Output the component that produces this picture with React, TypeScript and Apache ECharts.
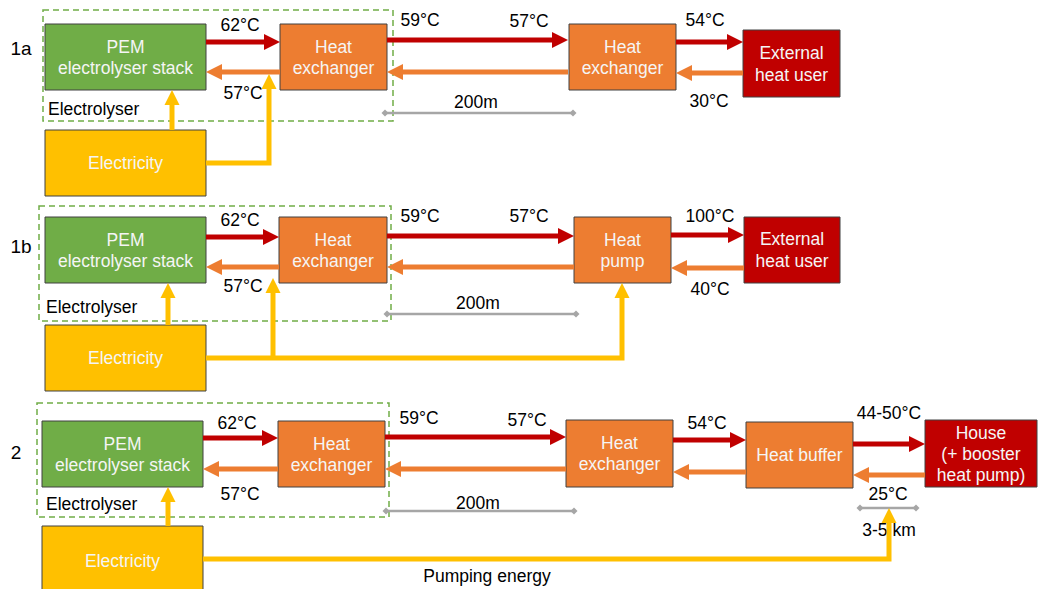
import React, { useEffect, useRef } from "react";
import * as echarts from "echarts";

// ---- Texts / values of the diagram ----
const rowLabels = ["1a", "1b", "2"];
const stackLabel = "PEM\nelectrolyser stack";
const electricityLabel = "Electricity";
const groupLabel = "Electrolyser";
const row1aNodes = ["Heat\nexchanger", "Heat\nexchanger", "External\nheat user"];
const row1bNodes = ["Heat\nexchanger", "Heat\npump", "External\nheat user"];
const row2Nodes = ["Heat\nexchanger", "Heat\nexchanger", "Heat buffer", "House\n(+ booster\nheat pump)"];
// supply temperatures (left to right), then return temperatures
const row1aSupply = ["62°C", "59°C", "57°C", "54°C"];
const row1aReturn = ["57°C", "30°C"];
const row1bSupply = ["62°C", "59°C", "57°C", "100°C"];
const row1bReturn = ["57°C", "40°C"];
const row2Supply = ["62°C", "59°C", "57°C", "54°C", "44-50°C"];
const row2Return = ["57°C", "25°C"];
const distances = ["200m", "3-5 km"];
const pumpingLabel = "Pumping energy";

// ---- Styles ----
const C = {
  green: "#70AD47",
  orange: "#ED7D31",
  yellow: "#FFC000",
  red: "#C00000",
  gray: "#A6A6A6",
  border: "#404040",
  boxText: "#F5F5F5",
  text: "#000000",
};
const FONT = "Liberation Sans, Arial, sans-serif";
const FS = 17.5;

type El = any;

function box(x: number, y: number, w: number, h: number, fill: string, label: string, lh = 21): El[] {
  return [
    { type: "rect", shape: { x, y, width: w, height: h }, style: { fill, stroke: C.border, lineWidth: 1 } },
    {
      type: "text",
      style: {
        text: label, x: x + w / 2, y: y + h / 2, fill: C.boxText, align: "center", verticalAlign: "middle",
        fontSize: FS, fontFamily: FONT, lineHeight: lh,
      },
    },
  ];
}

function label(text: string, x: number, y: number, align = "center", fs = FS): El {
  return {
    type: "text",
    style: { text, x, y, fill: C.text, align, verticalAlign: "middle", fontSize: fs, fontFamily: FONT },
  };
}

function hArrow(x1: number, x2: number, y: number, color: string, lw = 5, hl = 16, hw = 16): El[] {
  const s = x2 > x1 ? 1 : -1;
  const xb = x2 - s * hl;
  const sx = Math.min(x1, xb + s), ex = Math.max(x1, xb + s);
  return [
    { type: "rect", shape: { x: sx, y: y - lw / 2, width: ex - sx, height: lw }, style: { fill: color } },
    { type: "polygon", shape: { points: [[x2, y], [xb, y - hw / 2], [xb, y + hw / 2]] }, style: { fill: color } },
  ];
}

function upArrow(points: number[][], color: string, lw = 5, hl = 15, hw = 15): El[] {
  const tip = points[points.length - 1];
  const pts = points.slice(0, -1).concat([[tip[0], tip[1] + hl - 1]]);
  return [
    { type: "polyline", shape: { points: pts }, style: { stroke: color, lineWidth: lw, fill: null, lineJoin: "miter", lineCap: "butt" } },
    { type: "polygon", shape: { points: [[tip[0], tip[1]], [tip[0] - hw / 2, tip[1] + hl], [tip[0] + hw / 2, tip[1] + hl]] }, style: { fill: color } },
  ];
}

function dim(x1: number, x2: number, y: number): El[] {
  const d = 3.5;
  const dia = (x: number) => ({
    type: "polygon", shape: { points: [[x - d, y], [x, y - d], [x + d, y], [x, y + d]] }, style: { fill: C.gray },
  });
  return [
    { type: "line", shape: { x1, y1: y, x2, y2: y }, style: { stroke: C.gray, lineWidth: 2.5 } },
    dia(x1), dia(x2),
  ];
}

function dashed(x: number, y: number, w: number, h: number): El {
  return { type: "rect", shape: { x, y, width: w, height: h }, style: { fill: null, stroke: C.green, lineWidth: 1.5, lineDash: [6, 4] } };
}

function buildElements(): El[] {
  const e: El[] = [];
  // ---------- Row 1a ----------
  e.push(dashed(43, 10, 350, 111));
  e.push(label(rowLabels[0], 21, 48, "center", 19));
  e.push(...box(45, 24, 161, 66, C.green, stackLabel));
  e.push(...box(280, 24, 107, 66, C.orange, row1aNodes[0]));
  e.push(...box(569, 24, 107, 66, C.orange, row1aNodes[1]));
  e.push(...box(743, 30, 97, 67, C.red, row1aNodes[2], 22));
  e.push(...hArrow(206, 280, 42, C.red));
  e.push(...hArrow(387, 568, 40, C.red));
  e.push(...hArrow(676, 743, 42, C.red));
  e.push(...hArrow(280, 206, 72, C.orange));
  e.push(...hArrow(568, 387, 72, C.orange));
  e.push(...hArrow(743, 676, 73, C.orange));
  e.push(label(row1aSupply[0], 240, 25));
  e.push(label(row1aSupply[1], 420, 20));
  e.push(label(row1aSupply[2], 529, 21));
  e.push(label(row1aSupply[3], 705, 20));
  e.push(label(row1aReturn[0], 243, 93));
  e.push(label(row1aReturn[1], 709, 101));
  e.push(label(distances[0], 476, 102));
  e.push(label(groupLabel, 48, 109, "left"));
  e.push(...dim(385, 573, 113));
  e.push(...box(45, 130, 161, 66, C.yellow, electricityLabel));
  e.push(...upArrow([[172, 130], [172, 90]], C.yellow));
  e.push(...upArrow([[206, 163], [269, 163], [269, 74]], C.yellow));

  // ---------- Row 1b ----------
  e.push(dashed(39, 206, 352, 115));
  e.push(label(rowLabels[1], 21, 246, "center", 19));
  e.push(...box(45, 217, 161, 66, C.green, stackLabel));
  e.push(...box(279, 217, 108, 66, C.orange, row1bNodes[0]));
  e.push(...box(574, 217, 97, 66, C.orange, row1bNodes[1]));
  e.push(...box(744, 217, 96, 66, C.red, row1bNodes[2], 22));
  e.push(...hArrow(206, 279, 237, C.red));
  e.push(...hArrow(387, 574, 236, C.red));
  e.push(...hArrow(671, 744, 235, C.red));
  e.push(...hArrow(279, 206, 267, C.orange));
  e.push(...hArrow(574, 387, 267, C.orange));
  e.push(...hArrow(744, 671, 268, C.orange));
  e.push(label(row1bSupply[0], 240, 220));
  e.push(label(row1bSupply[1], 420, 216));
  e.push(label(row1bSupply[2], 529, 216));
  e.push(label(row1bSupply[3], 710, 216));
  e.push(label(row1bReturn[0], 243, 286));
  e.push(label(row1bReturn[1], 710, 289));
  e.push(label(distances[0], 478, 303));
  e.push(label(groupLabel, 46, 307, "left"));
  e.push(...dim(387, 576, 314));
  e.push(...box(45, 325, 161, 66, C.yellow, electricityLabel));
  e.push(...upArrow([[168, 325], [168, 283]], C.yellow));
  e.push(...upArrow([[206, 358], [622, 358], [622, 283]], C.yellow));
  e.push(...upArrow([[273, 358], [273, 278]], C.yellow));

  // ---------- Row 2 ----------
  e.push(dashed(37, 403, 352, 114));
  e.push(label(rowLabels[2], 16, 452, "center", 19));
  e.push(...box(42, 421, 161, 66, C.green, stackLabel));
  e.push(...box(278, 421, 107, 66, C.orange, row2Nodes[0]));
  e.push(...box(566, 420, 107, 67, C.orange, row2Nodes[1]));
  e.push(...box(746, 422, 107, 66, C.orange, row2Nodes[2]));
  e.push(...box(925, 420, 112, 67, C.red, row2Nodes[3]));
  e.push(...hArrow(203, 278, 438, C.red));
  e.push(...hArrow(385, 566, 437, C.red));
  e.push(...hArrow(673, 746, 440, C.red));
  e.push(...hArrow(853, 925, 444, C.red));
  e.push(...hArrow(278, 203, 469, C.orange));
  e.push(...hArrow(566, 385, 469, C.orange));
  e.push(...hArrow(746, 673, 472, C.orange));
  e.push(...hArrow(925, 853, 475, C.orange));
  e.push(label(row2Supply[0], 237, 423));
  e.push(label(row2Supply[1], 419, 418));
  e.push(label(row2Supply[2], 527, 420));
  e.push(label(row2Supply[3], 707, 423));
  e.push(label(row2Supply[4], 889, 413));
  e.push(label(row2Return[0], 240, 494));
  e.push(label(row2Return[1], 888, 494));
  e.push(label(distances[0], 478, 503));
  e.push(label(distances[1], 889, 530));
  e.push(label(pumpingLabel, 487, 576));
  e.push(label(groupLabel, 46, 504, "left"));
  e.push(...dim(386, 574, 511));
  e.push(...dim(860, 916, 508));
  e.push(...box(42, 526, 161, 70, C.yellow, electricityLabel));
  e.push(...upArrow([[168, 526], [168, 487]], C.yellow));
  e.push(...upArrow([[203, 559], [889, 559], [889, 508]], C.yellow));
  return e;
}

export default function App() {
  const ref = useRef<HTMLDivElement>(null);
  useEffect(() => {
    if (!ref.current) return;
    const chart = echarts.init(ref.current, null, { renderer: "svg" });
    chart.setOption({
      animation: false,
      backgroundColor: "#FFFFFF",
      graphic: { elements: buildElements() },
    });
    return () => chart.dispose();
  }, []);
  return (
    <div
      ref={ref}
      style={{ position: "fixed", left: 0, top: 0, width: 1040, height: 589, background: "#fff" }}
    />
  );
}
